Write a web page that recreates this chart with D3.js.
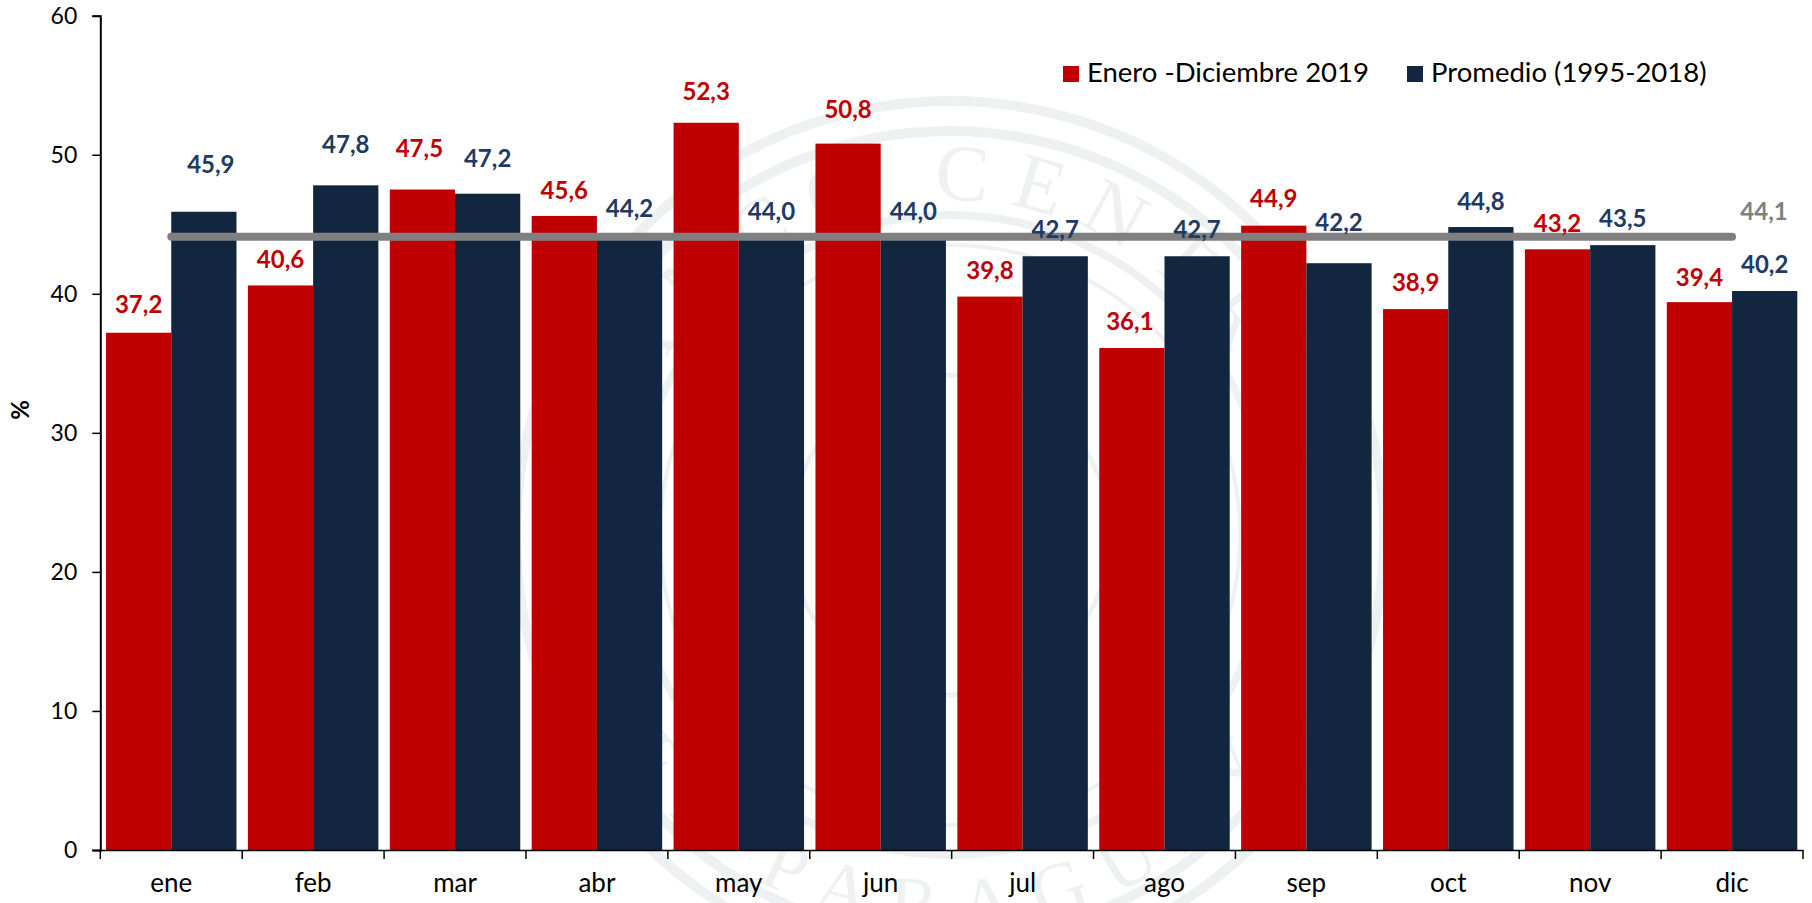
<!DOCTYPE html>
<html>
<head>
<meta charset="utf-8">
<script src="https://cdn.jsdelivr.net/npm/d3@7"></script>
<style>
html, body { margin: 0; padding: 0; background: #fff; }
svg { display: block; font-family: Lato, sans-serif; }
</style>
</head>
<body>
<div id="vizDiv"></div>
<script>
var width = 1812
var height = 903

var months = ["ene", "feb", "mar", "abr", "may", "jun", "jul", "ago", "sep", "oct", "nov", "dic"]
var values2019 = [37.2, 40.6, 47.5, 45.6, 52.3, 50.8, 39.8, 36.1, 44.9, 38.9, 43.2, 39.4]
var valuesAvg = [45.9, 47.8, 47.2, 44.2, 44.0, 44.0, 42.7, 42.7, 42.2, 44.8, 43.5, 40.2]
var valuesLine = [44.1, 44.1, 44.1, 44.1, 44.1, 44.1, 44.1, 44.1, 44.1, 44.1, 44.1, 44.1]
var yTicks = [0, 10, 20, 30, 40, 50, 60]
var seriesNames = ["Enero -Diciembre 2019", "Promedio (1995-2018)"]

// labels were dragged by hand in the original, gap = distance above the bar top
var gap2019 = [20, 17, 33, 17, 23, 26, 18, 18, 19, 18, 17, 16]
var gapAvg = [39, 32, 27, 18, 18, 18, 18, 18, 32, 17, 18, 18]
var shift2019 = [0, 0, -3, 0, 0, 0, 0, -2, 0, 0, 0, 0]
var shiftAvg = [7, 0, 0, 0, 0, 0, 0, 0, 0, 0, 0, 0]

var red = "#c00000"
var navy = "#12263f"
var navyText = "#1f3a64"
var grey = "#808080"
var mark = "#eef1f2"

var svg = d3.select("#vizDiv")
.append("svg")
.attr("width", width)
.attr("height", height)

var left = 100.3, right = 1803, top_ = 15.7, bottom = 850

var x = d3.scaleBand().domain(months).range([left, right])
var xInner = d3.scaleBand().domain([0, 1]).range([0, x.bandwidth()]).paddingOuter(0.0875)
var y = d3.scaleLinear().domain([0, 60]).range([bottom, top_])

drawSeal()

// bars
function drawBars(values, idx, colour) {
    svg.append("g").selectAll("rect")
    .data(values)
    .join("rect")
    .attr("x", function(d, i) { return x(months[i]) + xInner(idx) })
    .attr("y", function(d) { return y(d) })
    .attr("width", xInner.bandwidth())
    .attr("height", function(d) { return y(0) - y(d) })
    .attr("fill", colour)
}
drawBars(values2019, 0, red)
drawBars(valuesAvg, 1, navy)

// average line
var line = d3.line()
.x(function(d, i) { return x(months[i]) + x.bandwidth()/2 })
.y(function(d) { return y(d) })

svg.append("path")
.attr("d", line(valuesLine))
.attr("fill", "none")
.attr("stroke", grey)
.attr("stroke-width", 8)
.attr("stroke-linecap", "round")

// labels sit on top of the grey line
function drawLabels(values, idx, colour, gaps, shifts) {
    svg.append("g").selectAll("text")
    .data(values)
    .join("text")
    .attr("x", function(d, i) { return x(months[i]) + xInner(idx) + xInner.bandwidth()/2 + shifts[i] })
    .attr("y", function(d, i) { return y(d) - gaps[i] })
    .attr("text-anchor", "middle")
    .attr("font-size", 24)
    .attr("font-weight", 700)
    .attr("fill", colour)
    .text(function(d) { return d.toFixed(1).replace(".", ",") })
}
drawLabels(values2019, 0, red, gap2019, shift2019)
drawLabels(valuesAvg, 1, navyText, gapAvg, shiftAvg)

svg.append("text")
.attr("x", x("dic") + x.bandwidth()/2 + 32)
.attr("y", y(valuesLine[11]) - 17)
.attr("text-anchor", "middle")
.attr("font-size", 24)
.attr("font-weight", 700)
.attr("fill", grey)
.text(valuesLine[11].toFixed(1).replace(".", ","))

// axes
var yAxis = svg.append("g")
.attr("transform", "translate(" + left + ",0)")
.call(d3.axisLeft(y).tickValues(yTicks).tickSize(8).tickPadding(15))
yAxis.selectAll("text").attr("font-size", 23).attr("font-family", "Lato, sans-serif").attr("fill", "#000")
yAxis.selectAll("line").attr("stroke", "#000").attr("stroke-width", 1.5)
yAxis.select(".domain").attr("stroke", "#000").attr("stroke-width", 2)

var xAxis = svg.append("g")
.attr("transform", "translate(0," + bottom + ")")
.call(d3.axisBottom(x).tickSize(0).tickPadding(24))
xAxis.selectAll("text").attr("font-size", 26).attr("font-family", "Lato, sans-serif").attr("fill", "#000")
xAxis.select(".domain").attr("stroke", "#000").attr("stroke-width", 1.5)

// x ticks sit on the band edges, not the centres
svg.append("g").selectAll("line")
.data(months.concat(["end"]))
.join("line")
.attr("x1", function(d, i) { return left + x.step()*i })
.attr("x2", function(d, i) { return left + x.step()*i })
.attr("y1", bottom)
.attr("y2", bottom + 9)
.attr("stroke", "#000")
.attr("stroke-width", 1.5)

svg.append("text")
.attr("transform", "translate(29,410) rotate(-90)")
.attr("text-anchor", "middle")
.attr("font-size", 24)
.attr("font-weight", 700)
.text("%")

// legend
var legendX = [1063, 1407]
var legendColours = [red, navy]
seriesNames.forEach(function(name, i) {
    svg.append("rect")
    .attr("x", legendX[i])
    .attr("y", 66)
    .attr("width", 16)
    .attr("height", 16)
    .attr("fill", legendColours[i])
    svg.append("text")
    .attr("x", legendX[i] + 24)
    .attr("y", 82)
    .attr("font-size", 27.5)
    .attr("fill", "#000")
    .text(name)
})

// pale bank seal behind the chart
function drawSeal() {
    var cx = 950, cy = 535
    var seal = svg.append("g").attr("transform", "translate(" + cx + "," + cy + ")")
    var rings = [[434, 10], [404, 10], [320, 8], [290, 4], [160, 5]]
    seal.selectAll("circle")
    .data(rings)
    .join("circle")
    .attr("r", function(d) { return d[0] })
    .attr("fill", "none")
    .attr("stroke", mark)
    .attr("stroke-width", function(d) { return d[1] })

    var defs = svg.append("defs")
    defs.append("path").attr("id", "sealTop").attr("d", "M-335,0A335,335 0 0 1 335,0")
    defs.append("path").attr("id", "sealBottom").attr("d", "M-395,0A395,395 0 0 0 395,0")

    seal.append("text")
    .attr("font-family", "Liberation Serif, serif")
    .attr("font-size", 80)
    .attr("letter-spacing", 22)
    .attr("fill", mark)
    .attr("text-anchor", "middle")
    .attr("transform", "rotate(5)")
    .append("textPath")
    .attr("href", "#sealTop")
    .attr("startOffset", "50%")
    .text("BANCO CENTRAL")

    seal.append("text")
    .attr("font-family", "Liberation Serif, serif")
    .attr("font-size", 75)
    .attr("letter-spacing", 25)
    .attr("fill", mark)
    .attr("text-anchor", "middle")
    .attr("transform", "rotate(4.5)")
    .append("textPath")
    .attr("href", "#sealBottom")
    .attr("startOffset", "50%")
    .text("DEL PARAGUAY")
}
</script>
</body>
</html>
